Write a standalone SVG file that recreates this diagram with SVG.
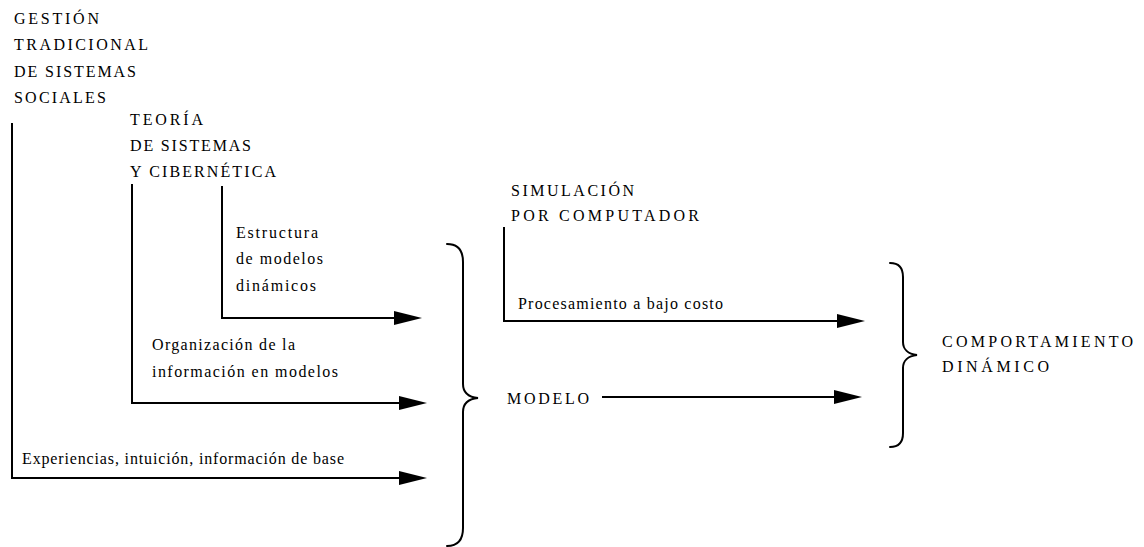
<svg xmlns="http://www.w3.org/2000/svg" width="1144" height="547" viewBox="0 0 1144 547">
  <style>
    .t { font-family: "Liberation Serif", "Times New Roman", serif; font-size: 16px; fill: #000; }
    .line { fill: none; stroke: #000; stroke-width: 2; }
    .arrow { fill: none; stroke: #000; stroke-width: 2; marker-end: url(#head); }
    .brace { fill: none; stroke: #000; stroke-width: 2; stroke-linecap: round; }
  </style>
  <defs>
    <marker id="head" viewBox="0 0 28 14" refX="8" refY="7" markerWidth="28" markerHeight="14" markerUnits="userSpaceOnUse" orient="auto">
      <path d="M0,0 L28,7 L0,14 Z" fill="#000"/>
    </marker>
  </defs>

  <rect width="1144" height="547" fill="#fff"/>

  <!-- source headings -->
  <g id="gestion-tradicional">
    <text class="t" x="14" y="24" textLength="85" lengthAdjust="spacing">GESTIÓN</text>
    <text class="t" x="14" y="50" textLength="134" lengthAdjust="spacing">TRADICIONAL</text>
    <text class="t" x="14" y="77" textLength="122" lengthAdjust="spacing">DE SISTEMAS</text>
    <text class="t" x="14" y="103" textLength="92" lengthAdjust="spacing">SOCIALES</text>
  </g>

  <g id="teoria-sistemas">
    <text class="t" x="130" y="125" textLength="73" lengthAdjust="spacing">TEORÍA</text>
    <text class="t" x="130" y="151" textLength="121" lengthAdjust="spacing">DE SISTEMAS</text>
    <text class="t" x="130" y="177" textLength="146" lengthAdjust="spacing">Y CIBERNÉTICA</text>
  </g>

  <g id="simulacion">
    <text class="t" x="511" y="196" textLength="123" lengthAdjust="spacing">SIMULACIÓN</text>
    <text class="t" x="511" y="221" textLength="188" lengthAdjust="spacing">POR COMPUTADOR</text>
  </g>

  <g id="modelo">
    <text class="t" x="507" y="404" textLength="82" lengthAdjust="spacing">MODELO</text>
  </g>

  <g id="comportamiento">
    <text class="t" x="942" y="347" textLength="191" lengthAdjust="spacing">COMPORTAMIENTO</text>
    <text class="t" x="942" y="372" textLength="107" lengthAdjust="spacing">DINÁMICO</text>
  </g>

  <!-- connectors: elbow lines, arrows and braces -->
  <g id="connectors">
    <path class="arrow" d="M12,123 L12,478 L407,478"/>
    <path class="arrow" d="M132,184 L132,403 L407,403"/>
    <path class="arrow" d="M222,186 L222,318 L402,318"/>
    <path class="arrow" d="M504,227 L504,321 L845,321"/>
    <path class="arrow" d="M602,397 L842,397"/>

    <path class="brace" d="M447,244 C458,244 463,250 463,262 L463,384 C463,392 468,397 478,398 C468,399 463,404 463,412 L463,528 C463,540 458,546 447,546"/>
    <path class="brace" d="M890,263 C899,263 903,268 903,277 L903,342 C903,349 908,354 917,355 C908,356 903,361 903,368 L903,433 C903,442 899,447 890,447"/>
  </g>

  <!-- connector labels -->
  <g id="labels">
    <text class="t" x="236" y="238" textLength="82" lengthAdjust="spacing">Estructura</text>
    <text class="t" x="236" y="264" textLength="87" lengthAdjust="spacing">de modelos</text>
    <text class="t" x="236" y="291" textLength="80" lengthAdjust="spacing">dinámicos</text>
    <text class="t" x="152" y="350" textLength="143" lengthAdjust="spacing">Organización de la</text>
    <text class="t" x="152" y="377" textLength="186" lengthAdjust="spacing">información en modelos</text>
    <text class="t" x="22" y="464" textLength="322" lengthAdjust="spacing">Experiencias, intuición, información de base</text>
    <text class="t" x="518" y="309" textLength="205" lengthAdjust="spacing">Procesamiento a bajo costo</text>
  </g>
</svg>
